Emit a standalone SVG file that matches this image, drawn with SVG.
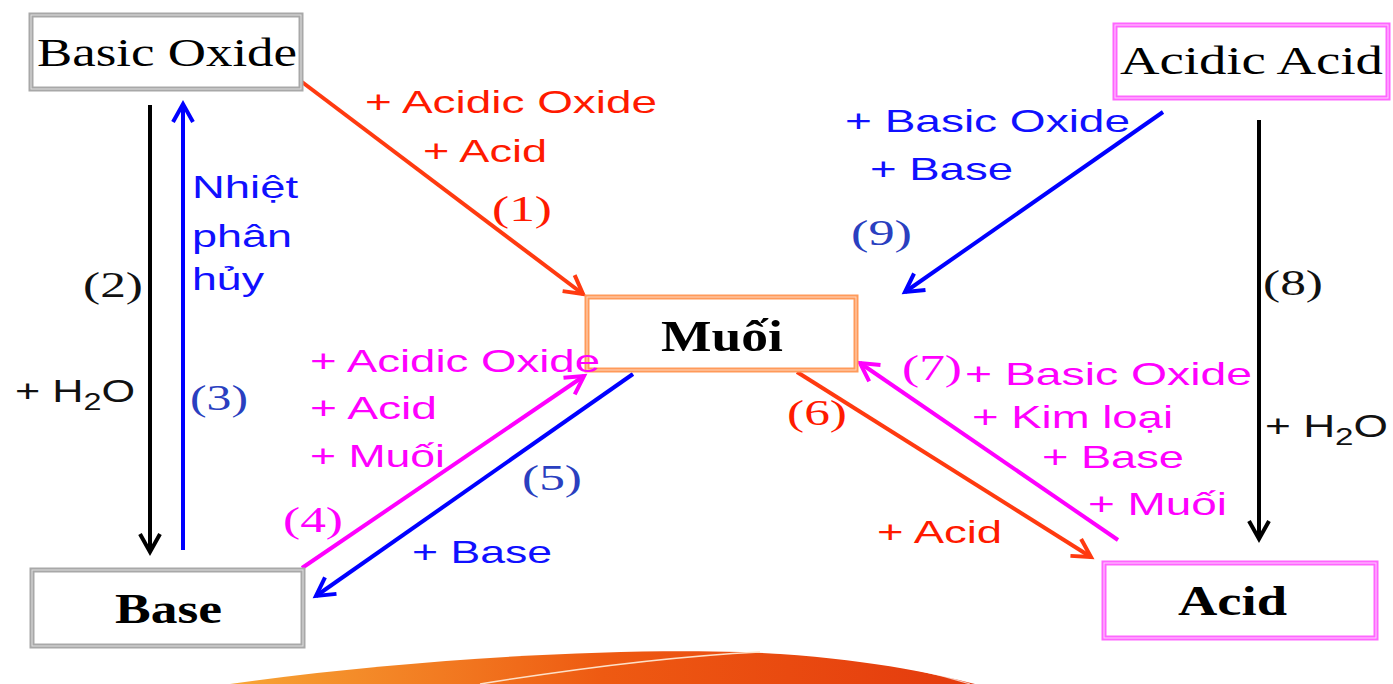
<svg xmlns="http://www.w3.org/2000/svg" width="1393" height="684" viewBox="0 0 1393 684">
<style>
.sans{font-family:"Liberation Sans",Arial,sans-serif;font-size:32px}
.num{font-family:"Liberation Serif","Times New Roman",serif;font-size:36px}
.box{font-family:"Liberation Serif","Times New Roman",serif;fill:#000}
.red{fill:#ff1a00}.mag{fill:#ff00ff}.blue{fill:#1010ff}.blk{fill:#111}
.numblue{fill:#2a3fc0}
.ln{fill:none;stroke-width:4}
</style>
<defs>
<marker id="aRed" markerUnits="userSpaceOnUse" markerWidth="26" markerHeight="26" refX="21" refY="12" orient="auto"><path d="M3,2 L21,12 L3,22" fill="none" stroke="#ff3a10" stroke-width="4"/></marker>
<marker id="aMag" markerUnits="userSpaceOnUse" markerWidth="26" markerHeight="26" refX="21" refY="12" orient="auto"><path d="M3,2 L21,12 L3,22" fill="none" stroke="#ff00ff" stroke-width="4"/></marker>
<marker id="aBlue" markerUnits="userSpaceOnUse" markerWidth="26" markerHeight="26" refX="21" refY="12" orient="auto"><path d="M3,2 L21,12 L3,22" fill="none" stroke="#0000ff" stroke-width="4"/></marker>
<marker id="aBlk" markerUnits="userSpaceOnUse" markerWidth="26" markerHeight="26" refX="21" refY="12" orient="auto"><path d="M3,2 L21,12 L3,22" fill="none" stroke="#000" stroke-width="4"/></marker>
<linearGradient id="sw" x1="0" y1="0" x2="1" y2="0"><stop offset="0" stop-color="#f7a535"/><stop offset="0.5" stop-color="#ee5a12"/><stop offset="1" stop-color="#e43a0e"/></linearGradient>
</defs>
<rect width="1393" height="684" fill="#fff"/>

<g id="swoosh">
<path d="M230,684 C400,660 600,648 740,652 C850,656 930,672 975,684 Z" fill="url(#sw)"/>
<path d="M480,684 C580,668 680,656 760,652" fill="none" stroke="#fde0c8" stroke-width="1.5"/>
<path d="M760,652 C850,654 920,668 970,684" fill="none" stroke="#fff" stroke-width="1.2" opacity="0.7"/>
</g>

<g id="connectors">
<line class="ln" x1="302" y1="82" x2="583" y2="294" stroke="#ff3a10" marker-end="url(#aRed)"/>
<line class="ln" x1="150" y1="105" x2="150" y2="552" stroke="#000" marker-end="url(#aBlk)"/>
<line class="ln" x1="183" y1="550" x2="183" y2="104" stroke="#0000ff" marker-end="url(#aBlue)"/>
<line class="ln" x1="302" y1="568" x2="584" y2="376" stroke="#ff00ff" marker-end="url(#aMag)"/>
<line class="ln" x1="633" y1="374" x2="316" y2="596" stroke="#0000ff" marker-end="url(#aBlue)"/>
<line class="ln" x1="797" y1="372" x2="1091" y2="557" stroke="#ff3a10" marker-end="url(#aRed)"/>
<line class="ln" x1="1118" y1="540" x2="860" y2="363" stroke="#ff00ff" marker-end="url(#aMag)"/>
<line class="ln" x1="1259" y1="120" x2="1259" y2="539" stroke="#000" marker-end="url(#aBlk)"/>
<line class="ln" x1="1163" y1="112" x2="905" y2="292" stroke="#0000ff" marker-end="url(#aBlue)"/>
</g>

<g id="basic-oxide">
<rect x="31" y="15" width="270" height="74" fill="#fff" stroke="#a8a8a8" stroke-width="5"/>
<rect x="31" y="15" width="270" height="74" fill="none" stroke="#e0e0e0" stroke-width="1"/>
<text class="box" x="37" y="66" font-size="40" textLength="260" lengthAdjust="spacingAndGlyphs">Basic Oxide</text>
</g>
<g id="acidic-acid">
<rect x="1115" y="25" width="273" height="73" fill="#fff" stroke="#ff66ff" stroke-width="5"/>
<rect x="1115" y="25" width="273" height="73" fill="none" stroke="#ffd0ff" stroke-width="1"/>
<text class="box" x="1120" y="74" font-size="40" textLength="263" lengthAdjust="spacingAndGlyphs">Acidic Acid</text>
</g>
<g id="muoi">
<rect x="587" y="297" width="269" height="73" fill="#fff" stroke="#ff9a5a" stroke-width="5"/>
<rect x="587" y="297" width="269" height="73" fill="none" stroke="#ffd8c0" stroke-width="1"/>
<text class="box" x="661" y="351" font-size="44" font-weight="bold" textLength="122" lengthAdjust="spacingAndGlyphs">Muối</text>
</g>
<g id="base">
<rect x="32" y="570" width="271" height="76" fill="#fff" stroke="#a8a8a8" stroke-width="5"/>
<rect x="32" y="570" width="271" height="76" fill="none" stroke="#e0e0e0" stroke-width="1"/>
<text class="box" x="115" y="623" font-size="42" font-weight="bold" textLength="107" lengthAdjust="spacingAndGlyphs">Base</text>
</g>
<g id="acid">
<rect x="1104" y="563" width="272" height="75" fill="#fff" stroke="#ff66ff" stroke-width="5"/>
<rect x="1104" y="563" width="272" height="75" fill="none" stroke="#ffd0ff" stroke-width="1"/>
<text class="box" x="1178" y="615" font-size="42" font-weight="bold" textLength="109" lengthAdjust="spacingAndGlyphs">Acid</text>
</g>

<g id="labels">
<text class="sans red" x="365" y="113" textLength="292" lengthAdjust="spacingAndGlyphs">+ Acidic Oxide</text>
<text class="sans red" x="423" y="162" textLength="124" lengthAdjust="spacingAndGlyphs">+ Acid</text>
<text class="num red" x="492" y="221" textLength="60" lengthAdjust="spacingAndGlyphs">(1)</text>
<text class="num blk" x="83" y="297" textLength="60" lengthAdjust="spacingAndGlyphs">(2)</text>
<text class="sans blk" x="15" y="402" font-size="36" textLength="120" lengthAdjust="spacingAndGlyphs">+ H<tspan font-size="24" dy="8">2</tspan><tspan dy="-8">O</tspan></text>
<text class="sans blue" x="192" y="198" textLength="106" lengthAdjust="spacingAndGlyphs">Nhiệt</text>
<text class="sans blue" x="192" y="247" textLength="100" lengthAdjust="spacingAndGlyphs">phân</text>
<text class="sans blue" x="192" y="290" textLength="72" lengthAdjust="spacingAndGlyphs">hủy</text>
<text class="num numblue" x="190" y="410" textLength="58" lengthAdjust="spacingAndGlyphs">(3)</text>
<text class="sans mag" x="310" y="372" textLength="290" lengthAdjust="spacingAndGlyphs">+ Acidic Oxide</text>
<text class="sans mag" x="310" y="419" textLength="127" lengthAdjust="spacingAndGlyphs">+ Acid</text>
<text class="sans mag" x="310" y="467" textLength="135" lengthAdjust="spacingAndGlyphs">+ Muối</text>
<text class="num mag" x="283" y="532" textLength="60" lengthAdjust="spacingAndGlyphs">(4)</text>
<text class="num numblue" x="522" y="490" textLength="60" lengthAdjust="spacingAndGlyphs">(5)</text>
<text class="sans blue" x="412" y="563" textLength="140" lengthAdjust="spacingAndGlyphs">+ Base</text>
<text class="num red" x="787" y="425" textLength="60" lengthAdjust="spacingAndGlyphs">(6)</text>
<text class="sans red" x="877" y="543" textLength="125" lengthAdjust="spacingAndGlyphs">+ Acid</text>
<text class="num mag" x="902" y="380" textLength="60" lengthAdjust="spacingAndGlyphs">(7)</text>
<text class="sans mag" x="965" y="385" textLength="287" lengthAdjust="spacingAndGlyphs">+ Basic Oxide</text>
<text class="sans mag" x="972" y="428" textLength="201" lengthAdjust="spacingAndGlyphs">+ Kim loại</text>
<text class="sans mag" x="1042" y="468" textLength="142" lengthAdjust="spacingAndGlyphs">+ Base</text>
<text class="sans mag" x="1088" y="515" textLength="139" lengthAdjust="spacingAndGlyphs">+ Muối</text>
<text class="num blk" x="1263" y="295" textLength="60" lengthAdjust="spacingAndGlyphs">(8)</text>
<text class="sans blk" x="1265" y="437" font-size="36" textLength="123" lengthAdjust="spacingAndGlyphs">+ H<tspan font-size="24" dy="8">2</tspan><tspan dy="-8">O</tspan></text>
<text class="sans blue" x="845" y="132" textLength="285" lengthAdjust="spacingAndGlyphs">+ Basic Oxide</text>
<text class="sans blue" x="870" y="180" textLength="143" lengthAdjust="spacingAndGlyphs">+ Base</text>
<text class="num numblue" x="851" y="245" textLength="61" lengthAdjust="spacingAndGlyphs">(9)</text>
</g>
</svg>
